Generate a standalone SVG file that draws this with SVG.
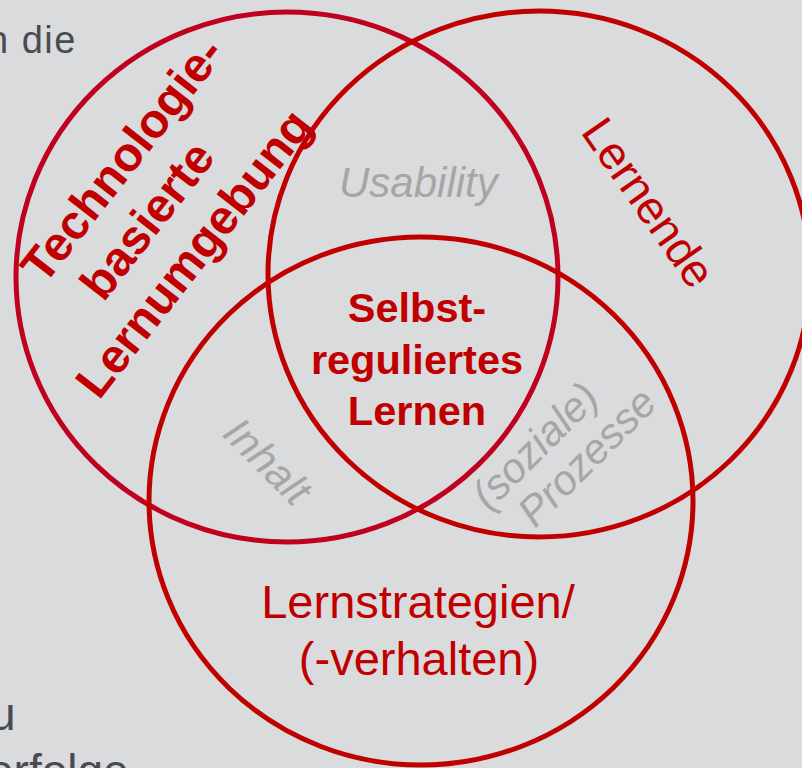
<svg xmlns="http://www.w3.org/2000/svg" width="802" height="768" viewBox="0 0 802 768">
<style>
.ring{fill:none;stroke:#c00000;stroke-width:5}
.red{fill:#c00000;font-family:"Liberation Sans",Arial,sans-serif}
.b{font-weight:bold}
.grey{fill:#a6a6a6;font-family:"Liberation Sans",Arial,sans-serif;font-style:italic;font-size:42px}
.side{fill:#4a4a52;font-family:"Liberation Sans",Arial,sans-serif}
</style>
<rect x="0" y="0" width="802" height="768" fill="#dadbdd"/>
<g id="background-text">
<text class="side" x="-13" y="53" font-size="38" letter-spacing="1.5">n die</text>
<text class="side" x="-10" y="730" font-size="46">u</text>
<text class="side" x="-12" y="787" font-size="46">erfolge</text>
</g>
<g id="node-technologie">
<ellipse class="ring" cx="287" cy="277" rx="271" ry="265" style="stroke:#bf001f"/>
<g transform="rotate(-52)" class="red b" font-size="48">
<text x="-198" y="211">Technologie-</text>
<text x="-175" y="268">basierte</text>
<text x="-255" y="325">Lernumgebung</text>
</g>
</g>
<g id="node-lernende">
<ellipse class="ring" cx="539" cy="274" rx="271" ry="263"/>
<text class="red" font-size="46" transform="translate(580,132) rotate(55)">Lernende</text>
</g>
<g id="node-lernstrategien">
<ellipse class="ring" cx="421" cy="501" rx="272" ry="264"/>
<text class="red" font-size="47" text-anchor="middle" x="418" y="618">Lernstrategien/</text>
<text class="red" font-size="47" text-anchor="middle" x="419" y="675">(-verhalten)</text>
</g>
<g id="label-usability">
<text class="grey" x="339" y="197">Usability</text>
</g>
<g id="label-inhalt">
<text class="grey" transform="translate(221,435) rotate(45)">Inhalt</text>
</g>
<g id="label-prozesse">
<text class="grey" transform="translate(489,512) rotate(-45)">(soziale)</text>
<text class="grey" transform="translate(535,529) rotate(-45)">Prozesse</text>
</g>
<g id="node-srl">
<text class="red b" font-size="41.5" text-anchor="middle" x="417" y="322">Selbst-</text>
<text class="red b" font-size="41.5" text-anchor="middle" x="417" y="374">reguliertes</text>
<text class="red b" font-size="41.5" text-anchor="middle" x="417" y="425">Lernen</text>
</g>
</svg>
